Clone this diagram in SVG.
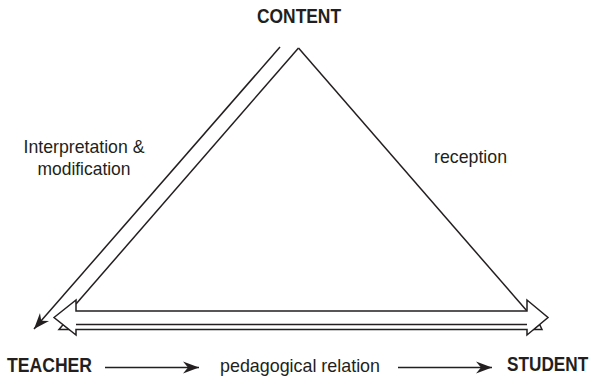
<svg xmlns="http://www.w3.org/2000/svg" width="592" height="378" viewBox="0 0 592 378">
<style>
.node{font-family:"Liberation Sans",Arial,sans-serif;font-weight:bold;font-size:20px;fill:#231f20}
.lbl{font-family:"Liberation Sans",Arial,sans-serif;font-size:18.5px;fill:#231f20}
.ln{stroke:#231f20;stroke-width:1.5;fill:none}
.hollow{stroke:#231f20;stroke-width:1.5;fill:#fff;stroke-linejoin:miter}
</style>
<defs>
<marker id="ah" viewBox="-17 -7 18 14" refX="0" refY="0" markerWidth="18" markerHeight="14" markerUnits="userSpaceOnUse" orient="auto">
<path d="M0,0 L-16,-6 L-11,0 L-16,6 Z" fill="#231f20"/>
</marker>
</defs>
<rect width="592" height="378" fill="#fff"/>
<g id="connectors">
<line class="ln" x1="298.5" y1="48" x2="527" y2="311"/>
<line class="ln" x1="298.5" y1="48" x2="76" y2="304"/>
<line class="ln" x1="280" y1="47" x2="34" y2="329" marker-end="url(#ah)"/>
<path class="hollow" d="M59,329.5 L63.2,324.5 L69.3,329.5 Z"/>
<path class="hollow" d="M542,329.5 L539.6,324.5 L533.6,329.5 Z"/>
<path class="hollow" d="M54,317.5 L76,300 L76,311 L527,311 L527,300 L548,317.5 L527,335 L527,329.5 L76,329.5 L76,335 Z"/>
<line class="ln" x1="76" y1="324.5" x2="527" y2="324.5"/>
<line class="ln" x1="105" y1="367.5" x2="199" y2="367.5" marker-end="url(#ah)"/>
<line class="ln" x1="398" y1="367.5" x2="492" y2="367.5" marker-end="url(#ah)"/>
</g>
<g id="content"><text class="node" transform="translate(299,23) scale(0.87,1)" text-anchor="middle">CONTENT</text></g>
<g id="teacher"><text class="node" transform="translate(7,371.5) scale(0.88,1)">TEACHER</text></g>
<g id="student"><text class="node" transform="translate(507,371) scale(0.86,1)">STUDENT</text></g>
<g id="labels">
<text class="lbl" x="84" y="153" text-anchor="middle" textLength="121" lengthAdjust="spacingAndGlyphs">Interpretation &amp;</text>
<text class="lbl" x="84" y="175" text-anchor="middle" textLength="93" lengthAdjust="spacingAndGlyphs">modification</text>
<text class="lbl" x="434" y="163" textLength="73" lengthAdjust="spacingAndGlyphs">reception</text>
<text class="lbl" x="220" y="372" font-size="17.5" textLength="160" lengthAdjust="spacingAndGlyphs">pedagogical relation</text>
</g>
</svg>
